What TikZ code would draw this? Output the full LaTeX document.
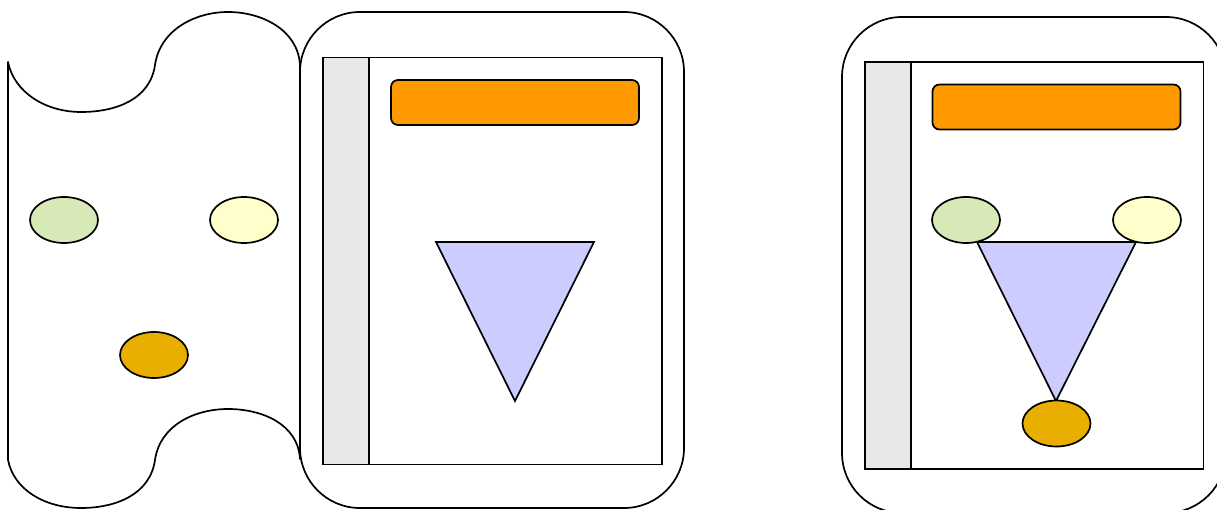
\documentclass[tikz,border=0pt]{standalone}
\usetikzlibrary{shapes.geometric}
\definecolor{cgreen}{HTML}{D8E9B8}
\definecolor{cyellow}{HTML}{FFFFCC}
\definecolor{cgold}{HTML}{E8AE00}
\definecolor{corange}{HTML}{FF9900}
\definecolor{cviolet}{HTML}{CCCCFF}
\definecolor{cgray}{HTML}{E8E8E8}
\tikzset{
  ln/.style={draw=black, line width=1.7pt},
  oval/.style={ln, ellipse, minimum width=68pt, minimum height=46pt, inner sep=0pt, outer sep=0pt},
  frame/.style={ln, rectangle, rounded corners=60pt, minimum width=384pt, minimum height=496pt, inner sep=0pt, outer sep=0pt, fill=white},
  panel/.style={ln, rectangle, minimum width=339pt, minimum height=407pt, inner sep=0pt, outer sep=0pt, fill=white},
  strip/.style={ln, rectangle, minimum width=46pt, minimum height=407pt, inner sep=0pt, outer sep=0pt, fill=cgray},
  bar/.style={ln, rectangle, rounded corners=7pt, minimum width=248pt, minimum height=45pt, inner sep=0pt, outer sep=0pt, fill=corange},
  tri/.style={ln, fill=cviolet, line join=miter}
}
\begin{document}
\begin{tikzpicture}[x=1pt,y=-1pt]
\useasboundingbox (0,0) rectangle (1217,510);
\clip (0,0) rectangle (1217,510);
% tape shape
\draw[ln, fill=white, line join=round] (8,62) .. controls (14,92) and (45,112) .. (81,112)
  .. controls (115,112) and (150,100) .. (155,65)
  .. controls (160,30) and (195,12) .. (228,12)
  .. controls (262,12) and (298,30) .. (300,65)
  -- (300,459)
  .. controls (298,424) and (262,409) .. (228,409)
  .. controls (195,409) and (160,425) .. (155,460)
  .. controls (150,495) and (115,508) .. (81,508)
  .. controls (45,508) and (14,490) .. (8,460) -- cycle;
\node[oval, fill=cgreen]  (g1) at (64,220) {};
\node[oval, fill=cyellow] (y1) at (244,220) {};
\node[oval, fill=cgold]   (o1) at (154,355) {};
% first frame
\node[frame] (f1) at (492,260) {};
\node[panel] (p1) at (492.5,261) {};
\node[strip] (s1) at (346,261) {};
\node[bar] (b1) at (515,102.5) {};
\coordinate (t1a) at (436,242);
\coordinate (t1b) at (594,242);
\coordinate (t1c) at (515,401);
\draw[tri] (t1a) -- (t1b) -- (t1c) -- cycle;
% second frame
\node[frame] (f2) at (1034,265) {};
\node[panel] (p2) at (1034,265.5) {};
\node[strip] (s2) at (888,265.5) {};
\node[bar] (b2) at (1056.5,107) {};
\coordinate (t2a) at (977,242);
\coordinate (t2b) at (1136,242);
\coordinate (t2c) at (1056,401);
\draw[tri] (t2a) -- (t2b) -- (t2c) -- cycle;
\node[oval, fill=cgreen]  (g2) at (966,220) {};
\node[oval, fill=cyellow] (y2) at (1147,220) {};
\node[oval, fill=cgold]   (o2) at (1056.5,423.5) {};
\end{tikzpicture}
\end{document}
